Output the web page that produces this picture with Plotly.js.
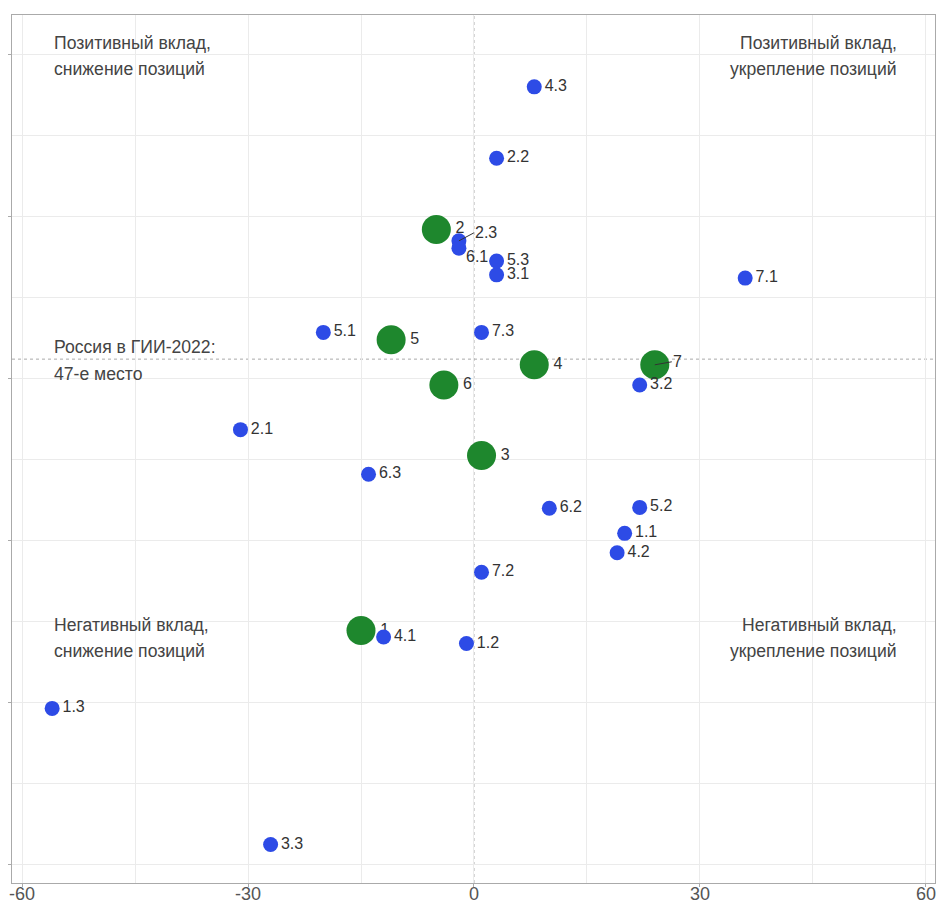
<!DOCTYPE html>
<html>
<head>
<meta charset="utf-8">
<script src="https://cdn.plot.ly/plotly-3.0.1.min.js"></script>
<style>html,body{margin:0;padding:0;background:#fff;}#chart{width:939px;height:904px;}</style>
</head>
<body>
<div id="chart"></div>
<script>
// ---- Data ----
// Pillars (main groups)
const mainLabels = ['1', '2', '3', '4', '5', '6', '7'];
const mainX = [-15, -5, 1, 8, -11, -4, 24];
const mainY = [80.5, 31.0, 58.9, 47.7, 44.6, 50.2, 47.7];

// Sub-pillars
const subLabels = ['1.1', '1.2', '1.3', '2.1', '2.2', '2.3', '3.1', '3.2', '3.3', '4.1', '4.2', '4.3', '5.1', '5.2', '5.3', '6.1', '6.2', '6.3', '7.1', '7.2', '7.3'];
const subX = [20, -1, -56, -31, 3, -2, 3, 22, -27, -12, 19, 8, -20, 22, 3, -2, 10, -14, 36, 1, 1];
const subY = [68.5, 82.1, 90.1, 55.7, 22.2, 32.4, 36.6, 50.2, 106.9, 81.3, 70.9, 13.4, 43.7, 65.3, 34.9, 33.3, 65.4, 61.2, 37.0, 73.3, 43.7];

// Reference lines
const xZero = 0;
const russiaRank = 47;

// Texts
const quadrantTexts = {
  tl: ['Позитивный вклад,', 'снижение позиций'],
  tr: ['Позитивный вклад,', 'укрепление позиций'],
  ml: ['Россия в ГИИ-2022:', '47-е место'],
  bl: ['Негативный вклад,', 'снижение позиций'],
  br: ['Негативный вклад,', 'укрепление позиций']
};
const xTickVals = [-60, -30, 0, 30, 60];
const xTickText = ['-60', '-30', '0', '30', '60'];

// ---- Styles ----
const FONT = 'Liberation Sans, Arial, sans-serif';
const BLUE = '#2d4be6';
const GREEN = '#1e872d';
const LABEL_COLOR = '#333';
const QUAD_COLOR = '#444';

// label nudges (pixel offsets) for crowded points
const subNudges = {
  '2.3': {arrow: true, ax: 15, ay: -8},
  '6.1': {arrow: false, xshift: 6, yshift: -8}
};
const mainNudges = {
  '7': {arrow: true, ax: 17, ay: -3}
};

const traces = [
  {
    type: 'scatter', mode: 'markers+text',
    x: mainX, y: mainY,
    text: mainLabels.map(l => mainNudges[l] ? '' : l),
    textposition: 'middle right',
    textfont: {family: FONT, size: 16, color: LABEL_COLOR},
    marker: {size: 29, color: GREEN, line: {width: 0}},
    hoverinfo: 'skip', cliponaxis: false
  },
  {
    type: 'scatter', mode: 'markers+text',
    x: subX, y: subY,
    text: subLabels.map(l => subNudges[l] ? '' : l),
    textposition: 'middle right',
    textfont: {family: FONT, size: 16, color: LABEL_COLOR},
    marker: {size: 15, color: BLUE, line: {width: 0}},
    hoverinfo: 'skip', cliponaxis: false
  }
];

const annotations = [];
function addNudged(labels, xs, ys, nudges) {
  labels.forEach((l, i) => {
    const n = nudges[l];
    if (!n) return;
    if (n.arrow) {
      annotations.push({
        x: xs[i], y: ys[i], xref: 'x', yref: 'y', text: l,
        showarrow: true, ax: n.ax, ay: n.ay, axref: 'pixel', ayref: 'pixel',
        arrowhead: 0, arrowwidth: 1, arrowcolor: '#333', standoff: 0, startstandoff: 0,
        xanchor: 'left', yanchor: 'middle', borderpad: 0,
        font: {family: FONT, size: 16, color: LABEL_COLOR}
      });
    } else {
      annotations.push({
        x: xs[i], y: ys[i], xref: 'x', yref: 'y', text: l, showarrow: false,
        xanchor: 'left', yanchor: 'middle', xshift: n.xshift, yshift: n.yshift, borderpad: 0,
        font: {family: FONT, size: 16, color: LABEL_COLOR}
      });
    }
  });
}
addNudged(mainLabels, mainX, mainY, mainNudges);
addNudged(subLabels, subX, subY, subNudges);

function quad(lines, x, xanchor, ys) {
  lines.forEach((t, i) => {
    annotations.push({
      xref: 'paper', yref: 'paper', x: x, y: ys[i], text: t, showarrow: false,
      xanchor: xanchor, yanchor: 'middle', borderpad: 0,
      font: {family: FONT, size: 17.6, color: QUAD_COLOR}
    });
  });
}
const LEFT_X = 0.0445, RIGHT_X = 0.9595;
quad(quadrantTexts.tl, LEFT_X, 'left', [0.9677, 0.9378]);
quad(quadrantTexts.tr, RIGHT_X, 'right', [0.9677, 0.9378]);
quad(quadrantTexts.ml, LEFT_X, 'left', [0.6179, 0.5864]);
quad(quadrantTexts.bl, LEFT_X, 'left', [0.2972, 0.2669]);
quad(quadrantTexts.br, RIGHT_X, 'right', [0.2972, 0.2669]);

const layout = {
  width: 939, height: 904,
  margin: {l: 12, r: 4, t: 15, b: 21, pad: 0},
  paper_bgcolor: '#fff', plot_bgcolor: '#fff',
  showlegend: false,
  font: {family: FONT},
  xaxis: {
    range: [-61.33, 61.2], tickmode: 'array', tickvals: xTickVals, ticktext: xTickText,
    ticks: 'outside', ticklen: 3, tickcolor: '#aaa', ticklabelstandoff: -9,
    tickfont: {family: FONT, size: 18, color: '#555'},
    showgrid: true, gridcolor: '#ebebeb', gridwidth: 1,
    minor: {dtick: 15, tick0: 0, showgrid: true, gridcolor: '#ebebeb', ticks: ''},
    zeroline: false, showline: true, linecolor: '#aaa', linewidth: 1, mirror: true,
    automargin: false, fixedrange: true
  },
  yaxis: {
    range: [111.65, 4.53], tick0: 9.38, dtick: 20,
    ticks: 'outside', ticklen: 3, tickcolor: '#aaa', showticklabels: false,
    showgrid: true, gridcolor: '#ebebeb', gridwidth: 1,
    minor: {dtick: 10, tick0: 9.38, showgrid: true, gridcolor: '#ebebeb', ticks: ''},
    zeroline: false, showline: true, linecolor: '#aaa', linewidth: 1, mirror: true,
    automargin: false, fixedrange: true
  },
  shapes: [
    {type: 'line', layer: 'below', xref: 'x', yref: 'paper', x0: xZero, x1: xZero, y0: 0, y1: 1,
     line: {color: '#aaa', width: 1, dash: 'dot'}},
    {type: 'line', layer: 'below', xref: 'paper', yref: 'y', x0: 0, x1: 1, y0: russiaRank, y1: russiaRank,
     line: {color: '#aaa', width: 1, dash: 'dot'}}
  ],
  annotations: annotations
};

Plotly.newPlot('chart', traces, layout, {displayModeBar: false, staticPlot: true});
</script>
</body>
</html>
